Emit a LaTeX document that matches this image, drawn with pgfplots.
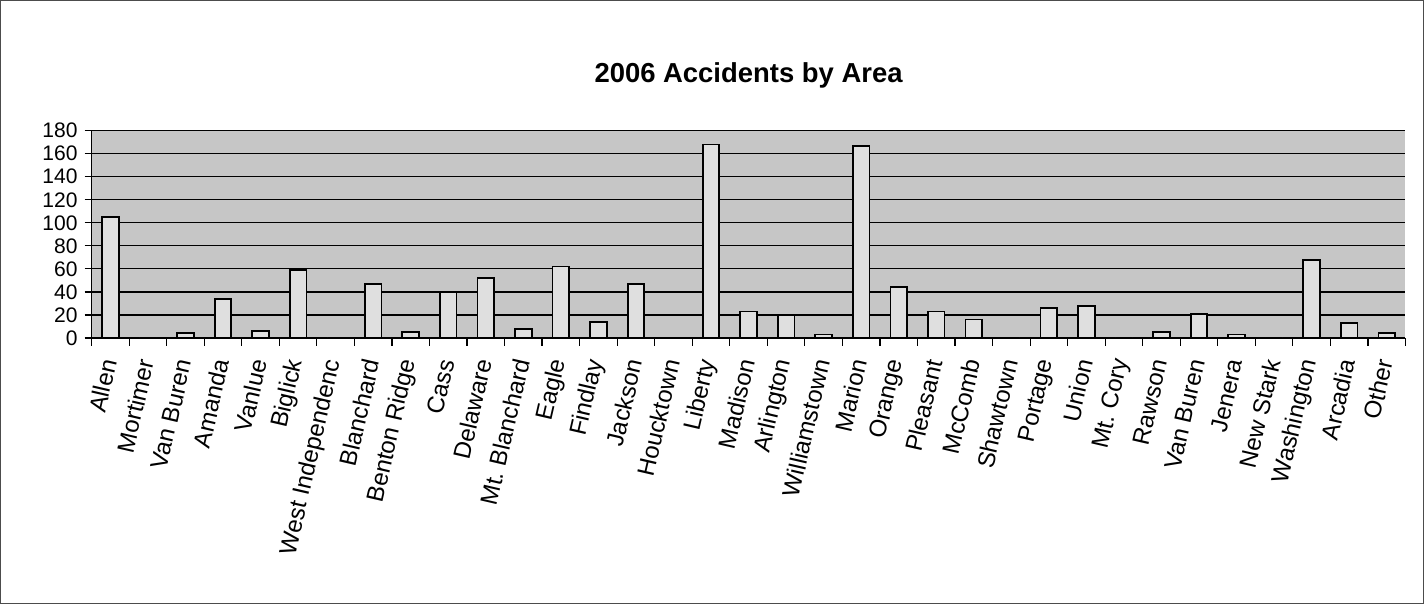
\documentclass[border=0pt]{standalone}
\usepackage{fontspec}
\setmainfont{Liberation Sans}
\usepackage{pgfplots}
\pgfplotsset{compat=1.18}
\frenchspacing

\begin{document}
\begin{tikzpicture}
\begin{axis}[
  at={(0,0)}, anchor=south west,
  scale only axis,
  width=656pt, height=103.5pt,
  ymin=0, ymax=180,
  ytick={0,20,...,180},
  xmin=-0.5, xmax=34.5,
  xtick={0,...,34},
  xticklabels={Allen,Mortimer,Van Buren,Amanda,Vanlue,Biglick,West Independenc,Blanchard,Benton Ridge,Cass,Delaware,Mt.\ Blanchard,Eagle,Findlay,Jackson,Houcktown,Liberty,Madison,Arlington,Williamstown,Marion,Orange,Pleasant,McComb,Shawtown,Portage,Union,Mt.\ Cory,Rawson,Van Buren,Jenera,New Stark,Washington,Arcadia,Other},
  minor xtick={-0.5,0.5,...,34.5},
  axis lines*=left,
  axis line style={black, line width=0.8pt},
  tick align=outside,
  major tick length=3.5pt,
  minor tick length=4pt,
  major x tick style={draw=none},
  minor x tick style={black, line width=0.6pt},
  major y tick style={black, line width=0.6pt},
  ymajorgrids,
  major grid style={black, line width=0.6pt},
  axis background/.style={fill=gray!45},
  /pgf/number format/assume math mode=true,
  yticklabel style={font=\fontsize{10.5}{12}\selectfont},
  xticklabel shift=4pt,
  xticklabel style={font=\fontsize{12}{14}\selectfont, rotate=77, anchor=east},
  clip=false,
]
\addplot[ybar, bar width=8.3pt, fill=gray!25, draw=black, line width=0.9pt]
  coordinates {
    (0,105) (1,0) (2,4) (3,34) (4,6) (5,59) (6,0) (7,47) (8,5) (9,40)
    (10,52) (11,8) (12,62) (13,14) (14,47) (15,0) (16,168) (17,23) (18,20) (19,3)
    (20,167) (21,44) (22,23) (23,16) (24,0) (25,26) (26,28) (27,0) (28,5) (29,21)
    (30,3) (31,0) (32,68) (33,13) (34,4)
  };
\end{axis}
\node[font=\bfseries\fontsize{13.7}{16}\selectfont] at (328pt,131pt) {2006 Accidents by Area};
\draw[gray!60!black, line width=0.5pt] (-45.5pt,-132.5pt) rectangle (665pt,168.5pt);
\end{tikzpicture}
\end{document}
